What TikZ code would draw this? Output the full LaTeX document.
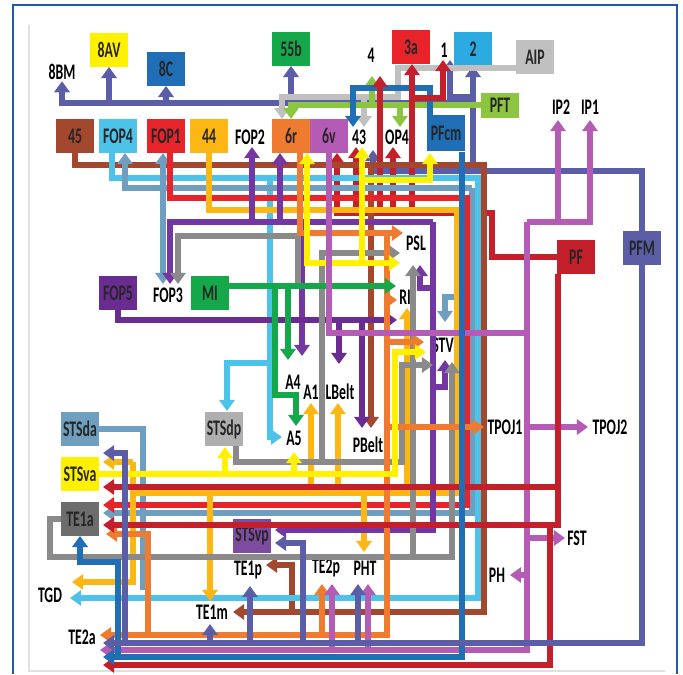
\documentclass[tikz,border=0pt]{standalone}
\usepackage{fontspec}
\setmainfont{Carlito}[FakeStretch=0.62]
\usetikzlibrary{arrows.meta}

\definecolor{cSlate}{HTML}{5B5EA6}
\definecolor{cViolet}{HTML}{7436A3}
\definecolor{cFopv}{HTML}{6A2C91}
\definecolor{cMag}{HTML}{B45CB5}
\definecolor{cRed}{HTML}{E8242B}
\definecolor{cDRed}{HTML}{C4202C}
\definecolor{cBrown}{HTML}{A3472F}
\definecolor{cLBlue}{HTML}{4DC3EA}
\definecolor{cCyan}{HTML}{2BABE2}
\definecolor{cSteel}{HTML}{6E9EC0}
\definecolor{cOrange}{HTML}{EE7B30}
\definecolor{cGold}{HTML}{FDB714}
\definecolor{cYel}{HTML}{FFF100}
\definecolor{cGreen}{HTML}{14A84B}
\definecolor{cLGreen}{HTML}{8CC540}
\definecolor{cLGray}{HTML}{C0C0C0}
\definecolor{cMGray}{HTML}{AFAFAF}
\definecolor{cDGray}{HTML}{6D6D6D}
\definecolor{cLine}{HTML}{8A8A8A}
\definecolor{cBlue}{HTML}{1F6EB6}
\definecolor{cVp}{HTML}{7B4CA0}
\definecolor{cFrame}{HTML}{1E5AA8}

\newcommand\lblfont{\bfseries\fontsize{19}{19}\selectfont}

\begin{document}
\begin{tikzpicture}[
  x=0.03cm, y=-0.03cm,
  box/.style={minimum width=1.14cm, minimum height=1.0cm, inner sep=0pt,
              font=\lblfont, text=black!85},
  lbl/.style={inner sep=1pt, font=\lblfont, text=black},
  wire/.style={line width=4.6pt},
  arr/.style={-{Triangle[length=9.5pt,width=13pt]}},
  barr/.style={{Triangle[length=9.5pt,width=13pt]}-{Triangle[length=9.5pt,width=13pt]}},
  sl/.style={wire, draw=cSlate},
  gy/.style={wire, draw=cLGray},
  lg/.style={wire, draw=cLGreen},
  bl/.style={wire, draw=cBlue},
  rd/.style={wire, draw=cRed},
  dr/.style={wire, draw=cDRed},
  br/.style={wire, draw=cBrown},
  lb/.style={wire, draw=cLBlue},
  st/.style={wire, draw=cSteel},
  gd/.style={wire, draw=cGold},
  vi/.style={wire, draw=cViolet},
  fv/.style={wire, draw=cFopv},
  dg/.style={wire, draw=cLine},
  og/.style={wire, draw=cOrange},
  yw/.style={wire, draw=cYel},
  gn/.style={wire, draw=cGreen},
  mg/.style={wire, draw=cMag},
]
\useasboundingbox (0,0) rectangle (683,674);
\fill[white] (0,0) rectangle (683,674);
\draw[cFrame, line width=2.2pt] (13,674) -- (13,5) -- (677,5) -- (677,674);
\draw[black!12, line width=1.2pt] (29,25) -- (29,671) -- (665,671);

% areas
\node[box, fill=cYel] (n8av) at (109,50) {8AV};
\node[box, fill=cBlue] (n8c) at (166,69) {8C};
\node[box, fill=cGreen] (n55b) at (291,49) {55b};
\node[box, fill=cRed] (n3a) at (411,47) {3a};
\node[box, fill=cCyan] (n2) at (473,49) {2};
\node[box, fill=cLGray] (aip) at (535,57) {AIP};
\node[box, fill=cLGreen, minimum height=0.75cm] (pft) at (500,105) {PFT};
\node[box, fill=cBrown] (n45) at (75,136) {45};
\node[box, fill=cLBlue] (fop4) at (118,136) {FOP4};
\node[box, fill=cRed] (fop1) at (166,136) {FOP1};
\node[box, fill=cGold] (n44) at (209,136) {44};
\node[box, fill=cOrange] (n6r) at (291,136) {6r};
\node[box, fill=cMag] (n6v) at (329,136) {6v};
\node[box, fill=cBlue, minimum height=1.1cm] (pfcm) at (446,133) {PFcm};
\node[box, fill=cDRed] (pf) at (576,257) {PF};
\node[box, fill=cSlate] (pfm) at (642,248) {PFM};
\node[box, fill=cFopv] (fop5) at (118,293) {FOP5};
\node[box, fill=cGreen] (mi) at (210,293) {MI};
\node[box, fill=cMGray] (stsdp) at (224,429) {STSdp};
\node[box, fill=cSteel] (stsda) at (80,429) {STSda};
\node[box, fill=cYel] (stsva) at (80,474) {STSva};
\node[box, fill=cDGray] (te1a) at (80,519) {TE1a};
\node[box, fill=cVp] (stsvp) at (252,536) {STSvp};

\node[lbl] (n8bm) at (62,72) {8BM};
\node[lbl] (n4) at (371,55) {4};
\node[lbl] (n1) at (444,50) {1};
\node[lbl] (ip2) at (561,107) {IP2};
\node[lbl] (ip1) at (590,107) {IP1};
\node[lbl] (fop2) at (250,137) {FOP2};
\node[lbl] (n43) at (359,137) {43};
\node[lbl] (op4) at (397,137) {OP4};
\node[lbl] (fop3) at (168,295) {FOP3};
\node[lbl] (psl) at (416,243) {PSL};
\node[lbl] (ri) at (405,297) {RI};
\node[lbl] (stv) at (443,345) {STV};
\node[lbl] (a4) at (293,382) {A4};
\node[lbl] (a1) at (311,392) {A1};
\node[lbl] (lbelt) at (340,392) {LBelt};
\node[lbl] (a5) at (294,438) {A5};
\node[lbl] (pbelt) at (368,445) {PBelt};
\node[lbl] (tpoj1) at (505,427) {TPOJ1};
\node[lbl] (tpoj2) at (610,427) {TPOJ2};
\node[lbl] (fst) at (577,538) {FST};
\node[lbl] (ph) at (497,575) {PH};
\node[lbl] (te1p) at (248,570) {TE1p};
\node[lbl] (te2p) at (326,568) {TE2p};
\node[lbl] (pht) at (365,568) {PHT};
\node[lbl] (te1m) at (212,612) {TE1m};
\node[lbl] (tgd) at (50,595) {TGD};
\node[lbl] (te2a) at (82,637) {TE2a};

% top bus
\draw[sl,arr] (pfm.north) |- (373,171) -- (373,150);
\draw[sl,arr] (473,171) -- (n2.south);
\draw[sl,arr] (473,103) -| (n8bm.south);
\draw[sl,arr] (109,103) -- (n8av.south);
\draw[sl,arr] (166,103) -- (n8c.south);
\draw[sl,arr] (291,103) -- (n55b.south);
\draw[sl,arr] (473,97) -| (450,60);
\draw[gy,arr] (aip.west |- 0,68) -- (398,68) -- (398,97) -| (282,119);
\draw[gy,arr] (364,97) -- (364,127);
\draw[lg,arr] (pft.west) -| (291,119);
\draw[lg,arr] (400,105) -- (400,127);
\draw[lg,arr] (372,105) -- (372,76);
\draw[bl,arr] (430,116) |- (353,88) -- (353,127);

% red from PF
\draw[dr,arr] (pf.west) -| (492,213) -- (337,213) -- (n6v.south -| 337,0);
\draw[dr,arr] (356,213) -- (356,147);
\draw[dr,arr] (393,213) -- (393,147);
\draw[dr,arr] (380,213) -- (380,76);
\draw[dr,arr] (412,213) -- (412,64);
\draw[dr,arr] (412,98) -| (443,60);

% frontal buses
\draw[br,arr] (n45.south) |- (484,165) |- (233,612);
\draw[br,arr] (371,165) -- (371,428);
\draw[br,arr] (292,612) |- (266,565);
\draw[lb,arr] (112,153) |- (478,178) |- (70,598);
\draw[lb,arr] (270,178) |- (282,437);
\draw[lb,arr] (270,363) -| (227,411);
\draw[st,arr] (472,188) |- (103,513);
\draw[st,arr] (472,188) -| (125,153);
\draw[st,barr] (163,153) -- (163,284);
\draw[st] (stsda.east) -| (143,590);
\draw[st,arr] (472,297) -| (445,322);
\draw[rd,arr] (170,153) |- (467,198) |- (103,505);
\draw[gd] (n44.south) |- (457,210) |- (133,493);
\draw[gd,arr] (133,462) -- (103,462);
\draw[gd,arr] (133,462) |- (72,582);
\draw[gd,arr] (364,493) -- (364,552);
\draw[gd,arr] (210,493) -- (210,601);
\draw[gd,arr] (311,493) -- (311,403);
\draw[gd,arr] (338,493) -- (338,403);
\draw[gd,arr] (407,493) -- (407,308);

% violet bus
\draw[vi,arr] (433,222) -| (170,284);
\draw[vi,arr] (433,222) |- (275,530);
\draw[vi,arr] (252,222) -- (252,147);
\draw[vi,arr] (280,222) -- (280,153);
\draw[vi,arr] (302,222) -- (302,356);
\draw[vi,arr] (433,387) -| (445,360);
\draw[vi,arr] (433,288) -| (420,265);
\draw[fv,arr] (fop5.south) |- (397,320);
\draw[fv,arr] (339,320) -- (339,364);
\draw[fv,arr] (362,320) -- (362,428);

% gray
\draw[dg,arr] (te1a.west) -| (50,557) -| (413,265);
\draw[dg,arr] (413,557) -| (452,362);
\draw[dg,arr] (236,446) |- (402,462) |- (433,365);
\draw[dg,arr] (322,462) |- (400,253);
\draw[dg,arr] (298,283) |- (178,236) -- (178,284);

% orange
\draw[og,arr] (300,153) |- (403,233);
\draw[og,arr] (387,233) |- (100,635);
\draw[og,arr] (387,300) -- (397,300);
\draw[og,arr] (387,342) -- (424,342);
\draw[og,arr] (387,427) -- (484,427);
\draw[og,arr] (322,635) -- (322,584);
\draw[og,arr] (148,635) |- (106,534);

% yellow
\draw[yw,arr] (stsva.east) -| (395,352) -- (426,352);
\draw[yw,arr] (225,474) -- (225,447);
\draw[yw,arr] (294,474) -- (294,452);
\draw[yw,barr] (307,153) |- (400,263);
\draw[yw,arr] (362,263) -- (362,147);
\draw[yw,arr] (362,180) -| (430,153);

% green
\draw[gn,arr] (229,286) -- (396,286);
\draw[gn,arr] (288,286) -- (288,360);
\draw[gn,arr] (275,286) |- (296,395) -- (296,426);

% magenta
\draw[mg] (n6v.south) |- (527,333);
\draw[mg,arr] (527,222) |- (100,650);
\draw[mg,arr] (527,222) -| (590,120);
\draw[mg,arr] (558,222) -- (558,120);
\draw[mg,arr] (527,427) -- (588,427);
\draw[mg,arr] (527,538) -- (565,538);
\draw[mg,arr] (527,575) -- (510,575);
\draw[mg,arr] (332,650) -- (332,584);
\draw[mg,arr] (368,650) -- (368,584);

% PF down
\draw[dr,arr] (558,274) |- (103,525);
\draw[dr,arr] (558,487) -- (103,487);
\draw[dr,arr] (550,525) |- (103,665);

% PFcm down
\draw[bl,arr] (462,152) |- (103,657);
\draw[bl,arr] (118,657) |- (80,562) -- (te1a.south);

% PFM down
\draw[sl,arr] (pfm.south) |- (103,643);
\draw[sl,arr] (125,643) |- (103,453);
\draw[sl,arr] (303,643) |- (275,543);
\draw[sl,arr] (250,643) -- (250,586);
\draw[sl,arr] (210,643) -- (210,624);
\draw[sl,arr] (358,643) -- (358,584);
\end{tikzpicture}
\end{document}
